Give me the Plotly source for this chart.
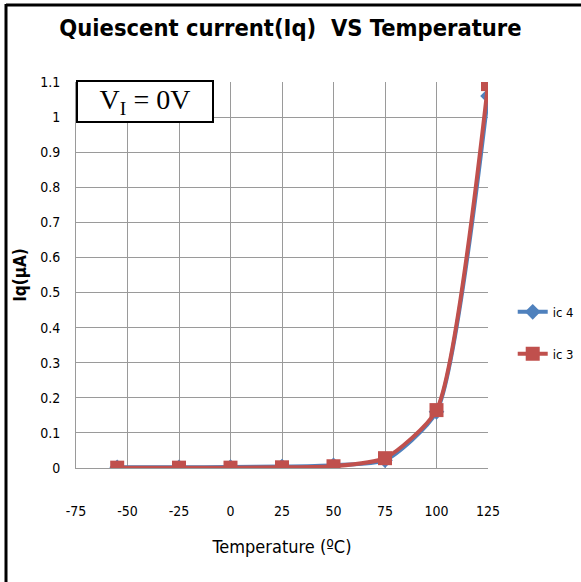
import plotly.graph_objects as go

temps = [-55, -25, 0, 25, 50, 75, 100, 125]
ic4 = [0.002, 0.002, 0.003, 0.004, 0.008, 0.022, 0.16, 1.06]
ic3 = [0.001, 0.001, 0.001, 0.002, 0.005, 0.028, 0.165, 1.094]
x_ticks = [-75, -50, -25, 0, 25, 50, 75, 100, 125]
y_ticks = [round(i * 0.1, 1) for i in range(12)]
y_labels = ["0"] + [f"{v:g}" for v in y_ticks[1:]]

FONT = "DejaVu Sans Condensed, Liberation Sans Narrow, sans-serif"

fig = go.Figure()
fig.add_trace(go.Scatter(
    x=temps, y=ic4, name="ic 4", mode="lines+markers", legendgroup="a",
    line=dict(color="#4f81bd", width=4, shape="spline", smoothing=0.6),
    marker=dict(symbol="diamond", size=12, color="#4f81bd"),
))
fig.add_trace(go.Scatter(
    x=temps, y=ic3, name="ic 3", mode="lines+markers", legendgroup="b",
    line=dict(color="#c0504d", width=4, shape="spline", smoothing=0.6),
    marker=dict(symbol="square", size=14, color="#c0504d"),
))

fig.update_layout(
    width=581, height=582,
    paper_bgcolor="white", plot_bgcolor="white",
    margin=dict(l=76, r=93, t=82, b=114, autoexpand=False),
    font=dict(family=FONT, size=14, color="black"),
    title=dict(text="<b>Quiescent current(Iq)  VS Temperature</b>",
               x=0.5, xanchor="center", y=0.952, yanchor="middle",
               font=dict(family=FONT, size=23.5, color="black")),
    xaxis=dict(range=[-75, 125], tickvals=x_ticks, ticktext=[str(v) for v in x_ticks],
               showgrid=True, gridcolor="#9a9a9a", gridwidth=1,
               showline=True, linecolor="#9a9a9a", linewidth=1,
               zeroline=False, ticks="", ticklabelstandoff=30,
               tickfont=dict(family=FONT, size=14),
               title=dict(text="Temperature (ºC)", standoff=22,
                          font=dict(family=FONT, size=18))),
    yaxis=dict(range=[0, 1.1], tickvals=y_ticks, ticktext=y_labels,
               showgrid=True, gridcolor="#9a9a9a", gridwidth=1,
               showline=True, linecolor="#9a9a9a", linewidth=1,
               zeroline=False, ticks="", ticklabelstandoff=12,
               tickfont=dict(family=FONT, size=14),
               title=dict(text="<b>Iq(μA)</b>", standoff=9,
                          font=dict(family=FONT, size=17))),
    legend=dict(x=1.06, y=0.35, xanchor="left", yanchor="middle",
                font=dict(family=FONT, size=13), traceorder="grouped",
                itemwidth=30, tracegroupgap=22, bgcolor="rgba(0,0,0,0)"),
    showlegend=True,
    annotations=[dict(
        text="V<sub>I</sub> = 0V", xref="paper", yref="paper",
        x=0.0, y=1.005, xanchor="left", yanchor="top", showarrow=False,
        font=dict(family="Liberation Serif, Times New Roman, serif", size=28, color="black"),
        bordercolor="black", borderwidth=2, borderpad=2, bgcolor="white",
        width=130,
    )],
    shapes=[
        dict(type="line", xref="paper", yref="paper",
             x0=-70/412, x1=-70/412, y0=-114/386, y1=1 + 78/386,
             line=dict(color="black", width=3)),
        dict(type="line", xref="paper", yref="paper",
             x0=-70/412, x1=1 + 93/412, y0=1 + 77/386, y1=1 + 77/386,
             line=dict(color="black", width=3)),
    ],
)
fig.write_html("out.html", config={"displayModeBar": False},
               post_script="document.body.style.margin='0';")
